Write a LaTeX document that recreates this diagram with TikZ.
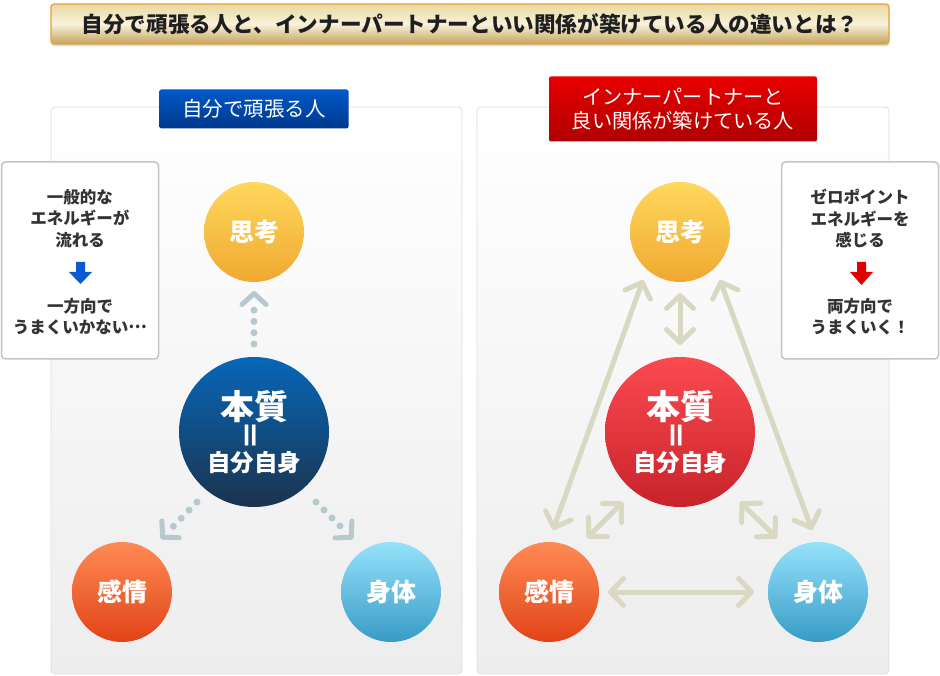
\documentclass[tikz,border=0pt]{standalone}
\usepackage{fontspec}
\setmainfont{Noto Sans CJK JP}
\usetikzlibrary{arrows.meta,calc,shadows}
\definecolor{bannerTop}{HTML}{E8D8A2}
\definecolor{bannerMid}{HTML}{F8F2DA}
\definecolor{bannerBot}{HTML}{C6A25A}
\definecolor{bannerLine}{HTML}{E2A236}
\definecolor{panelLine}{HTML}{DEDEDE}
\definecolor{panelBot}{HTML}{EDEDED}
\definecolor{noteLine}{HTML}{C4C4C4}
\definecolor{noteText}{HTML}{333333}
\definecolor{hbTop}{HTML}{0059C9}
\definecolor{hbBot}{HTML}{00388C}
\definecolor{hrTop}{HTML}{E80000}
\definecolor{hrBot}{HTML}{B00000}
\definecolor{yTop}{HTML}{FFD85C}
\definecolor{yBot}{HTML}{F0A832}
\definecolor{bTop}{HTML}{0767B8}
\definecolor{bBot}{HTML}{1B334E}
\definecolor{rTop}{HTML}{FB4A50}
\definecolor{rBot}{HTML}{C8232A}
\definecolor{oTop}{HTML}{FF8B55}
\definecolor{oBot}{HTML}{E14317}
\definecolor{cTop}{HTML}{95E2FC}
\definecolor{cBot}{HTML}{389BC5}
\definecolor{dotc}{HTML}{B7C8CF}
\definecolor{arrc}{HTML}{D9D8C2}
\definecolor{downBlue}{HTML}{0A5BD0}
\definecolor{downRed}{HTML}{E10000}
\newcommand{\cjkdots}{\raisebox{0.3em}{…}}
\newcommand{\honshitsu}{{\fontsize{34}{34}\selectfont 本質}\\[-3pt]{\fontsize{30}{22}\selectfont\rotatebox[origin=c]{90}{＝}}\\[0pt]{\fontsize{23.5}{25}\selectfont 自分自身}}
\begin{document}
\begin{tikzpicture}[x=1pt,y=-1pt,
  banner/.style={rectangle, rounded corners=3pt, draw=bannerLine, line width=1.2pt,
    top color=bannerTop, bottom color=bannerBot, middle color=bannerMid,
    minimum width=838pt, minimum height=40pt, inner sep=0pt,
    drop shadow={shadow xshift=0pt, shadow yshift=-2.5pt, opacity=0.25},
    font=\bfseries\fontsize{21.6}{22}\selectfont, text=black!88},
  panel/.style={rounded corners=4pt, draw=panelLine, line width=0.8pt, top color=white, bottom color=panelBot},
  hdrblue/.style={rectangle, rounded corners=2pt, top color=hbTop, bottom color=hbBot,
    minimum width=189pt, minimum height=39pt, inner sep=0pt, text=white,
    font=\fontsize{20.5}{22}\selectfont},
  hdrred/.style={rectangle, rounded corners=2pt, top color=hrTop, bottom color=hrBot,
    minimum width=268pt, minimum height=65pt, inner sep=0pt, text=white, align=center,
    font=\fontsize{20.2}{24}\selectfont},
  notebox/.style={rectangle, rounded corners=4pt, draw=noteLine, line width=1.5pt, fill=white,
    minimum width=157pt, minimum height=197pt, inner sep=0pt},
  notetext/.style={align=center, text=noteText, inner sep=0pt,
    font=\bfseries\fontsize{16.5}{21.5}\selectfont},
  circ/.style={circle, inner sep=0pt, minimum size=100pt, text=white, align=center,
    font=\bfseries\fontsize{25}{26}\selectfont},
  bigcirc/.style={circ, minimum size=150pt},
  dotarr/.style={draw=dotc, line width=7pt, line cap=round,
    dash pattern=on 0pt off 11.3pt on 0pt off 11.3pt on 0pt off 11.3pt on 0pt off 300pt,
    -{Straight Barb[length=11pt,width=24pt,line width=5pt,round]}},
  dblarr/.style={draw=arrc, line width=5pt,
    {Straight Barb[length=13pt,width=27pt,round]}-{Straight Barb[length=13pt,width=27pt,round]}}
]
\useasboundingbox (0,0) rectangle (940,676);

% title
\node[banner] (title) at (470,24) {自分で頑張る人と、インナーパートナーといい関係が築けている人の違いとは？};

% panels
\draw[panel] (51,107) rectangle (462,674);
\draw[panel] (477,107) rectangle (889,674);

% headers
\node[hdrblue] (hdrL) at (254,109) {自分で頑張る人};
\node[hdrred] (hdrR) at (683,109) {インナーパートナーと\\良い関係が築けている人};

% note boxes
\node[notebox] (noteL) at (80,260.5) {};
\node[notetext] (noteL1) at (80,218.5) {一般的な\\エネルギーが\\流れる};
\fill[downBlue] (76,262) -- (85,262) -- (85,272) -- (92,272) -- (80.5,284) -- (69,272) -- (76,272) -- cycle;
\node[notetext] (noteL2) at (80,316.5) {一方向で\\うまくいかない\cjkdots};

\node[notebox] (noteR) at (860,260.5) {};
\node[notetext] (noteR1) at (860,218.5) {ゼロポイント\\エネルギーを\\感じる};
\fill[downRed] (857,262) -- (866,262) -- (866,272) -- (873,272) -- (861.5,285) -- (850,272) -- (857,272) -- cycle;
\node[notetext] (noteR2) at (860,316.5) {両方向で\\うまくいく！};

% left circles
\node[circ, top color=yTop, bottom color=yBot] (shiL) at (254,232) {思考};
\node[bigcirc, top color=bTop, bottom color=bBot] (honL) at (254,432) {\honshitsu};
\node[circ, top color=oTop, bottom color=oBot] (kanL) at (122,592) {感情};
\node[circ, top color=cTop, bottom color=cBot] (shinL) at (391,592) {身体};

% left dotted connectors
\draw[dotarr] ([shift={(0,-88)}]honL.center) -- ([shift={(0,59)}]shiL.center);
\draw[dotarr] ([shift={(-57,70)}]honL.center) -- ([shift={(39,-53)}]kanL.center);
\draw[dotarr] ([shift={(62,70)}]honL.center) -- ([shift={(-38,-53)}]shinL.center);

% right circles
\node[circ, top color=yTop, bottom color=yBot] (shiR) at (680,232) {思考};
\node[bigcirc, top color=rTop, bottom color=rBot] (honR) at (680,432) {\honshitsu};
\node[circ, top color=oTop, bottom color=oBot] (kanR) at (549,592) {感情};
\node[circ, top color=cTop, bottom color=cBot] (shinR) at (818,592) {身体};

% right double arrows
\draw[dblarr] ([shift={(0,61)}]shiR.center) -- ([shift={(0,-87)}]honR.center);
\draw[dblarr] ([shift={(-37,48)}]shiR.center) -- ([shift={(4,-62)}]kanR.center);
\draw[dblarr] ([shift={(40,48)}]shiR.center) -- ([shift={(-6,-62)}]shinR.center);
\draw[dblarr] ([shift={(-57,70)}]honR.center) -- ([shift={(38,-54)}]kanR.center);
\draw[dblarr] ([shift={(60,70)}]honR.center) -- ([shift={(-41,-54)}]shinR.center);
\draw[dblarr] ([shift={(59,0)}]kanR.center) -- ([shift={(-64,0)}]shinR.center);
\end{tikzpicture}
\end{document}
